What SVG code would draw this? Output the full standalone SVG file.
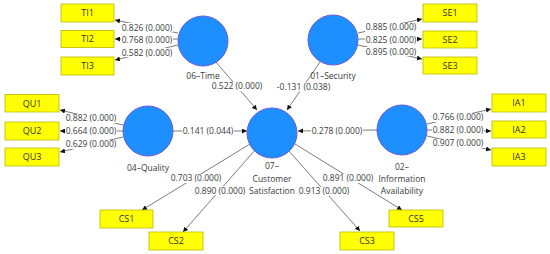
<svg xmlns="http://www.w3.org/2000/svg" width="550" height="254" viewBox="0 0 550 254">
<defs>
<marker id="ah" viewBox="0 0 10 10" refX="10" refY="5" markerWidth="5" markerHeight="5" orient="auto" markerUnits="userSpaceOnUse">
<path d="M0,0 L10,5 L0,10 z" fill="#111"/>
</marker>
<style>
.c{fill:#1e8fff;stroke:#6a5ad6;stroke-width:1}
.b{fill:#ffff00;stroke:#b8b800;stroke-width:0.8}
.bt{font-family:"Open Sans","Liberation Sans",Arial,sans-serif;font-size:9px;fill:#333;text-anchor:middle}
.t{font-family:"Open Sans","Liberation Sans",Arial,sans-serif;font-size:8.5px;fill:#3a3a3a;text-anchor:middle}
.l{stroke:#5a5a5a;stroke-width:0.8;fill:none;marker-end:url(#ah)}
.bg{fill:#fff}
</style>
</defs>
<rect width="550" height="254" fill="#fff"/>
<g id="connectors">
<line class="l" x1="178" y1="33" x2="115" y2="20"/>
<line class="l" x1="178" y1="39" x2="115" y2="39"/>
<line class="l" x1="178" y1="45" x2="115" y2="60"/>
<line class="l" x1="358" y1="33" x2="422" y2="19"/>
<line class="l" x1="358" y1="39" x2="422" y2="39"/>
<line class="l" x1="358" y1="45" x2="422" y2="59"/>
<line class="l" x1="123" y1="125" x2="60" y2="110"/>
<line class="l" x1="123" y1="131" x2="60" y2="131"/>
<line class="l" x1="123" y1="137" x2="60" y2="152"/>
<line class="l" x1="427" y1="124" x2="491" y2="109"/>
<line class="l" x1="427" y1="130" x2="491" y2="131"/>
<line class="l" x1="427" y1="136" x2="491" y2="150"/>
<line class="l" x1="215" y1="61" x2="257" y2="110"/>
<line class="l" x1="320" y1="62" x2="287" y2="110"/>
<line class="l" x1="173" y1="131" x2="247" y2="131"/>
<line class="l" x1="377" y1="130" x2="298" y2="131"/>
<line class="l" x1="250" y1="144" x2="142" y2="210"/>
<line class="l" x1="256" y1="149" x2="183" y2="232"/>
<line class="l" x1="288" y1="150" x2="360" y2="231"/>
<line class="l" x1="295" y1="144" x2="402" y2="210"/>
<g id="labels">
<rect class="bg" x="121" y="23" width="52" height="9"/>
<rect class="bg" x="121" y="35" width="52" height="9"/>
<rect class="bg" x="121" y="48" width="52" height="9"/>
<rect class="bg" x="365" y="23" width="52" height="9"/>
<rect class="bg" x="365" y="35" width="52" height="9"/>
<rect class="bg" x="365" y="47" width="52" height="9"/>
<rect class="bg" x="65" y="114" width="52" height="9"/>
<rect class="bg" x="65" y="127" width="52" height="9"/>
<rect class="bg" x="65" y="140" width="52" height="9"/>
<rect class="bg" x="432" y="113" width="52" height="9"/>
<rect class="bg" x="432" y="126" width="52" height="9"/>
<rect class="bg" x="432" y="139" width="52" height="9"/>
<rect class="bg" x="211" y="82" width="52" height="9"/>
<rect class="bg" x="276" y="82.5" width="55" height="9"/>
<rect class="bg" x="182" y="127" width="52" height="9"/>
<rect class="bg" x="311" y="127" width="52" height="9"/>
<rect class="bg" x="170" y="174" width="52" height="9"/>
<rect class="bg" x="194" y="186" width="52" height="9"/>
<rect class="bg" x="298" y="187" width="52" height="9"/>
<rect class="bg" x="322" y="174" width="52" height="9"/>
<text class="t" x="147" y="30.5">0.826 (0.000)</text>
<text class="t" x="147" y="42.5">0.768 (0.000)</text>
<text class="t" x="147" y="55.5">0.582 (0.000)</text>
<text class="t" x="391" y="30">0.885 (0.000)</text>
<text class="t" x="391" y="42.5">0.825 (0.000)</text>
<text class="t" x="391" y="54.5">0.895 (0.000)</text>
<text class="t" x="91" y="121">0.882 (0.000)</text>
<text class="t" x="91" y="134">0.664 (0.000)</text>
<text class="t" x="91" y="147">0.629 (0.000)</text>
<text class="t" x="458" y="120">0.766 (0.000)</text>
<text class="t" x="458" y="133">0.882 (0.000)</text>
<text class="t" x="458" y="146">0.907 (0.000)</text>
<text class="t" x="237" y="89">0.522 (0.000)</text>
<text class="t" x="303.5" y="89.5">-0.131 (0.038)</text>
<text class="t" x="208" y="134">0.141 (0.044)</text>
<text class="t" x="337" y="134">0.278 (0.000)</text>
<text class="t" x="196" y="181">0.703 (0.000)</text>
<text class="t" x="220" y="193.5">0.890 (0.000)</text>
<text class="t" x="324" y="194">0.913 (0.000)</text>
<text class="t" x="348" y="181">0.891 (0.000)</text>
</g>
</g>
<g id="time"><circle class="c" cx="203" cy="41" r="25"/><text class="t" x="203" y="78.5">06–Time</text></g>
<g id="security"><circle class="c" cx="333" cy="40" r="25"/><text class="t" x="333" y="79">01–Security</text></g>
<g id="quality"><circle class="c" cx="148" cy="131" r="25"/><text class="t" x="148" y="171">04–Quality</text></g>
<g id="satisfaction"><circle class="c" cx="272" cy="133" r="25"/><text class="t" x="272" y="169">07–</text><text class="t" x="272" y="181.5">Customer</text><text class="t" x="272" y="194">Satisfaction</text></g>
<g id="information"><circle class="c" cx="402" cy="130" r="25"/><text class="t" x="402" y="170">02–</text><text class="t" x="402" y="182">Information</text><text class="t" x="402" y="194">Availability</text></g>
<g id="TI1"><rect class="b" x="61" y="4" width="53" height="18"/><text class="bt" x="87.5" y="16">TI1</text></g>
<g id="TI2"><rect class="b" x="61" y="30.5" width="53" height="17"/><text class="bt" x="87.5" y="42">TI2</text></g>
<g id="TI3"><rect class="b" x="61" y="57" width="53" height="18"/><text class="bt" x="87.5" y="69">TI3</text></g>
<g id="SE1"><rect class="b" x="423" y="4" width="54" height="18"/><text class="bt" x="450" y="16">SE1</text></g>
<g id="SE2"><rect class="b" x="423" y="31" width="54" height="17"/><text class="bt" x="450" y="42.5">SE2</text></g>
<g id="SE3"><rect class="b" x="423" y="57" width="54" height="17"/><text class="bt" x="450" y="68.5">SE3</text></g>
<g id="QU1"><rect class="b" x="5" y="94.5" width="54" height="17.5"/><text class="bt" x="32" y="106.5">QU1</text></g>
<g id="QU2"><rect class="b" x="5" y="122" width="54" height="18"/><text class="bt" x="32" y="134">QU2</text></g>
<g id="QU3"><rect class="b" x="5" y="148" width="54" height="18"/><text class="bt" x="32" y="160">QU3</text></g>
<g id="IA1"><rect class="b" x="492" y="94" width="54" height="18"/><text class="bt" x="519" y="106">IA1</text></g>
<g id="IA2"><rect class="b" x="492" y="121" width="54" height="17"/><text class="bt" x="519" y="132.5">IA2</text></g>
<g id="IA3"><rect class="b" x="492" y="148" width="54" height="18"/><text class="bt" x="519" y="160">IA3</text></g>
<g id="CS1"><rect class="b" x="100" y="210" width="53" height="18"/><text class="bt" x="126.5" y="222">CS1</text></g>
<g id="CS2"><rect class="b" x="149" y="232" width="54" height="18"/><text class="bt" x="176" y="244">CS2</text></g>
<g id="CS3"><rect class="b" x="340" y="232" width="54" height="18"/><text class="bt" x="367" y="244">CS3</text></g>
<g id="CS5"><rect class="b" x="389" y="210" width="54" height="17"/><text class="bt" x="416" y="221.5">CS5</text></g>
</svg>
